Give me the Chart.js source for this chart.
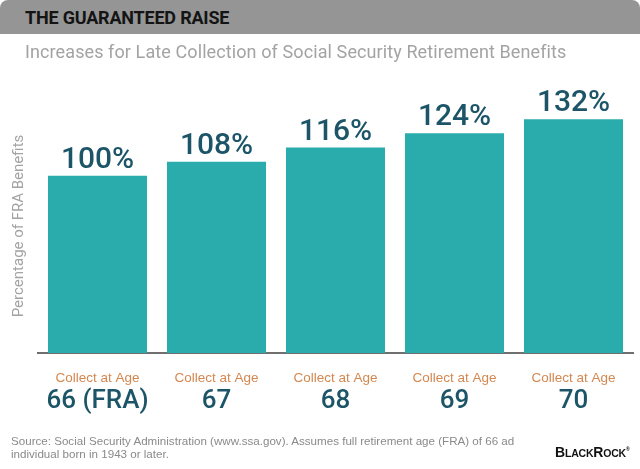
<!DOCTYPE html>
<html>
<head>
<meta charset="utf-8">
<script src="https://cdn.jsdelivr.net/npm/chart.js@4"></script>
<style>
  html, body { margin: 0; padding: 0; background: #fff; }
  #wrap { position: relative; width: 640px; height: 469px; overflow: hidden; background: #fff; }
  #c { position: absolute; left: 0; top: 0; }
  #hdr { position: absolute; left: 0; top: 0; width: 640px; height: 34px; background: #959595;
         border-top-left-radius: 8px; border-top-right-radius: 8px; }
  #hdr span { position: absolute; left: 25px; top: 7px; font: bold 18px Roboto, sans-serif; color: #141414; letter-spacing: -0.2px; }
  #sub { position: absolute; left: 25px; top: 41px; font: 18px Roboto, sans-serif; color: #a3a3a3; white-space: nowrap; letter-spacing: 0.1px; }
  #src { position: absolute; left: 11px; top: 434px; font: 11.6px "Liberation Sans", Arial, sans-serif; color: #8a8a8a; line-height: 13px; white-space: nowrap; }
  #logo { position: absolute; left: 555px; top: 444px; font: bold 14px "Liberation Sans", Arial, sans-serif; color: #111; letter-spacing: -0.2px; }
  #logo small { font-size: 10.5px; }
  #logo sup { font-size: 5px; vertical-align: 6px; }
</style>
</head>
<body>
<div id="wrap">
  <canvas id="c" width="640" height="469"></canvas>
  <div id="hdr"><span>THE GUARANTEED RAISE</span></div>
  <div id="sub">Increases for Late Collection of Social Security Retirement Benefits</div>
  <div id="src">Source: Social Security Administration (www.ssa.gov). Assumes full retirement age (FRA) of 66 ad<br>individual born in 1943 or later.</div>
  <div id="logo">B<small>LACK</small>R<small>OCK</small><sup>®</sup></div>
</div>
<script>
const categories = ['66 (FRA)', '67', '68', '69', '70'];
const categoryPrefix = 'Collect at Age';
const benefitPercent = [100, 108, 116, 124, 132];
const yAxisTitle = 'Percentage of FRA Benefits';

const labelPlugin = {
  id: 'labels',
  afterDatasetsDraw(chart) {
    const ctx = chart.ctx;
    const meta = chart.getDatasetMeta(0);
    const xs = chart.scales.x;
    ctx.save();
    ctx.textAlign = 'center';
    ctx.textBaseline = 'alphabetic';
    meta.data.forEach((bar, i) => {
      ctx.fillStyle = '#1d5568';
      ctx.font = '500 30px Roboto, sans-serif';
      ctx.fillText(benefitPercent[i] + '%', bar.x, bar.y - 8);
    });
    categories.forEach((c, i) => {
      const x = xs.getPixelForValue(i);
      ctx.fillStyle = '#d4874f';
      ctx.font = '13.5px "Liberation Sans", Arial, sans-serif';
      ctx.fillText(categoryPrefix, x, 382);
      ctx.fillStyle = '#1d5568';
      ctx.font = '500 26px Roboto, sans-serif';
      ctx.fillText(c, x, 408);
    });
    ctx.translate(23, 226);
    ctx.rotate(-Math.PI / 2);
    ctx.fillStyle = '#a3a3a3';
    ctx.font = '15px Roboto, sans-serif';
    ctx.fillText(yAxisTitle, 0, 0);
    ctx.restore();
  }
};

new Chart(document.getElementById('c'), {
  type: 'bar',
  data: {
    labels: categories,
    datasets: [{
      data: benefitPercent,
      backgroundColor: '#29acab',
      borderWidth: 0,
      categoryPercentage: 1,
      barPercentage: 0.832
    }]
  },
  options: {
    responsive: false,
    animation: false,
    devicePixelRatio: 1,
    layout: { padding: { left: 38, right: 7, top: 105, bottom: 116 } },
    plugins: { legend: { display: false }, tooltip: { enabled: false }, title: { display: false } },
    scales: {
      x: {
        grid: { display: false, drawTicks: false },
        border: { display: true, color: '#6f6f6f', width: 2 },
        ticks: { display: false }
      },
      y: {
        display: false,
        min: 0, max: 140
      }
    }
  },
  plugins: [labelPlugin]
});
</script>
</body>
</html>
